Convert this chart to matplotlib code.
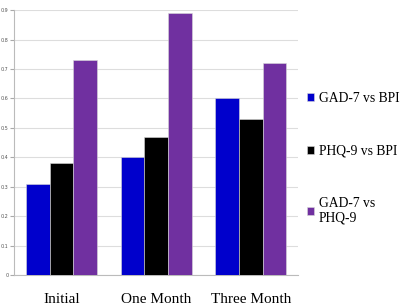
import numpy as np
import matplotlib.pyplot as plt

# データ
categories = ['Initial', 'One Month', 'Three Month']
gad_bpi = [0.31, 0.40, 0.60]
phq_bpi = [0.38, 0.47, 0.53]
gad_phq = [0.73, 0.89, 0.72]
series_names = ['GAD-7 vs BPI', 'PHQ-9 vs BPI', 'GAD-7 vs\nPHQ-9']
colors = ['#0000CC', '#000000', '#7030A0']

fig = plt.figure(figsize=(4.05, 3.05), dpi=100)
ax = fig.add_axes([0.035, 0.098, 0.701, 0.869])

x = np.arange(len(categories)) + 0.5
w = 0.25
for i, (vals, name, c) in enumerate(zip([gad_bpi, phq_bpi, gad_phq], series_names, colors)):
    ax.bar(x + (i - 1) * w, vals, width=w, color=c, edgecolor='#d8d8d8',
           linewidth=0.4, label=name, zorder=3)

ax.set_xlim(0, 3)
ax.set_ylim(0, 0.9)
ax.set_yticks(np.arange(0, 0.91, 0.1))
ax.set_yticklabels(['0'] + ['%.1f' % v for v in np.arange(0.1, 0.91, 0.1)])
ax.set_xticks(x)
ax.set_xticklabels(categories, fontsize=11, family='Liberation Serif')
ax.tick_params(axis='y', labelsize=3.5, length=3, color='#aaaaaa', labelcolor='#555555', pad=1)
ax.tick_params(axis='x', length=0, pad=13)
ax.yaxis.grid(True, color='#dddddd', linewidth=0.8, zorder=0)
for s in ['top', 'right']:
    ax.spines[s].set_visible(False)
ax.spines['left'].set_color('#bbbbbb')
ax.spines['bottom'].set_color('#bbbbbb')

ax.legend(loc='center left', bbox_to_anchor=(0.99, 0.44), frameon=False,
          prop={'family': 'Liberation Serif', 'size': 9.8},
          handlelength=0.5, handleheight=0.5, handletextpad=0.35, labelspacing=2.9)

fig.savefig('out.png', dpi=100)
